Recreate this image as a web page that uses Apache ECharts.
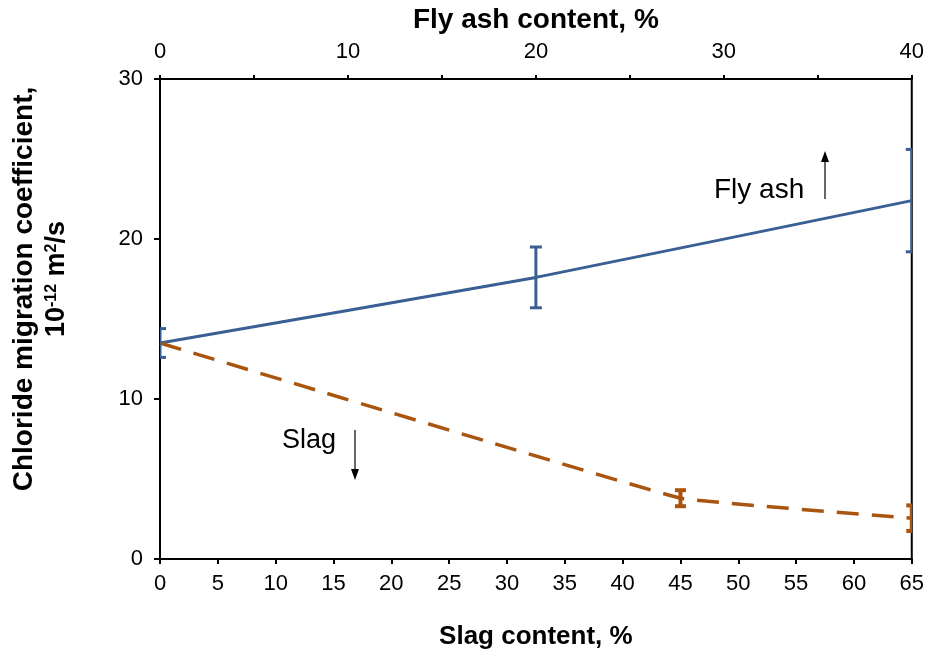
<!DOCTYPE html>
<html>
<head>
<meta charset="utf-8">
<script src="https://cdn.jsdelivr.net/npm/echarts@6/dist/echarts.min.js"></script>
<style>
  html, body { margin: 0; padding: 0; background: #fff; }
  #chart { width: 927px; height: 656px; }
</style>
</head>
<body>
<div id="chart"></div>
<script>
// data
const slagContent = [0, 45, 65];
const slagCoef = [13.5, 3.8, 2.55];
const slagErr = [0, 0.5, 0.8];
const flyAshContent = [0, 20, 40];
const flyAshCoef = [13.5, 17.6, 22.4];
const flyAshErr = [0.9, 1.9, 3.2];

const FONT = '"Liberation Sans", Arial, sans-serif';
const BLUE = '#3A5F94';
const BROWN = '#A9550F';

function errorBars(xs, ys, errs, color, axisIdx, capW, lw) {
  return {
    type: 'custom',
    xAxisIndex: axisIdx,
    clip: true,
    z: 4,
    data: xs.map((x, i) => [x, ys[i] - errs[i], ys[i] + errs[i]]),
    renderItem: function (params, api) {
      if (api.value(1) === api.value(2)) return null;
      const lo = api.coord([api.value(0), api.value(1)]);
      const hi = api.coord([api.value(0), api.value(2)]);
      const h = capW / 2;
      const st = { stroke: color, lineWidth: lw };
      return {
        type: 'group',
        children: [
          { type: 'line', shape: { x1: lo[0], y1: lo[1], x2: hi[0], y2: hi[1] }, style: st },
          { type: 'line', shape: { x1: lo[0] - h, y1: lo[1], x2: lo[0] + h, y2: lo[1] }, style: st },
          { type: 'line', shape: { x1: hi[0] - h, y1: hi[1], x2: hi[0] + h, y2: hi[1] }, style: st }
        ]
      };
    }
  };
}

const chart = echarts.init(document.getElementById('chart'));

const axisLine = { show: true, lineStyle: { color: '#000', width: 2 } };
const tickLabel = { color: '#000', fontSize: 22, fontFamily: FONT };

chart.setOption({
  animation: false,
  grid: { left: 160, right: 15, top: 79, bottom: 97, show: true, borderColor: '#000', borderWidth: 2 },
  xAxis: [
    {
      type: 'value', position: 'bottom', min: 0, max: 65, interval: 5,
      axisLine: axisLine,
      axisTick: { show: true, length: 5, lineStyle: { color: '#000', width: 2 } },
      axisLabel: Object.assign({ margin: 14 }, tickLabel),
      splitLine: { show: false },
      name: 'Slag content, %', nameLocation: 'middle', nameGap: 65,
      nameTextStyle: { color: '#000', fontSize: 26, fontWeight: 'bold', fontFamily: FONT }
    },
    {
      type: 'value', position: 'top', min: 0, max: 40, interval: 5,
      axisLine: axisLine,
      axisTick: { show: true, length: 4, lineStyle: { color: '#000', width: 2 } },
      axisLabel: Object.assign({ margin: 16, formatter: v => (v % 10 === 0 ? String(v) : '') }, tickLabel),
      splitLine: { show: false },
      name: 'Fly ash content, %', nameLocation: 'middle', nameGap: 45,
      nameTextStyle: { color: '#000', fontSize: 28, fontWeight: 'bold', fontFamily: FONT }
    }
  ],
  yAxis: {
    type: 'value', min: 0, max: 30, interval: 10,
    axisLine: axisLine,
    axisTick: { show: true, length: 6, lineStyle: { color: '#000', width: 2 } },
    axisLabel: Object.assign({ margin: 17 }, tickLabel),
    splitLine: { show: false }
  },
  graphic: [
    {
      type: 'text', x: 24, y: 289, rotation: Math.PI / 2,
      style: { text: 'Chloride migration coefficient,', font: 'bold 28px ' + FONT, fill: '#000', align: 'center', verticalAlign: 'middle' }
    },
    {
      type: 'text', x: 57, y: 279, rotation: Math.PI / 2,
      style: {
        text: '10{sup|-12} m{sup|2}/s',
        font: 'bold 27px ' + FONT, fill: '#000', align: 'center', verticalAlign: 'middle',
        rich: { sup: { font: 'bold 16px ' + FONT, fill: '#000', verticalAlign: 'top', padding: [0, 0, 11, 0] } }
      }
    },
    { type: 'text', x: 714, y: 190, style: { text: 'Fly ash', font: '28px ' + FONT, fill: '#000', verticalAlign: 'middle' } },
    { type: 'line', shape: { x1: 825, y1: 199, x2: 825, y2: 156 }, style: { stroke: '#000', lineWidth: 1.2 } },
    { type: 'polygon', shape: { points: [[825, 151], [821, 162], [829, 162]] }, style: { fill: '#000' } },
    { type: 'text', x: 282, y: 441, style: { text: 'Slag', font: '27px ' + FONT, fill: '#000', verticalAlign: 'middle' } },
    { type: 'line', shape: { x1: 355, y1: 430, x2: 355, y2: 474 }, style: { stroke: '#000', lineWidth: 1.2 } },
    { type: 'polygon', shape: { points: [[355, 480], [351, 469], [359, 469]] }, style: { fill: '#000' } }
  ],
  series: [
    {
      name: 'Fly ash', type: 'line', xAxisIndex: 1, smooth: 0.08, showSymbol: false, z: 3,
      data: flyAshContent.map((x, i) => [x, flyAshCoef[i]]),
      lineStyle: { color: BLUE, width: 3 }
    },
    {
      name: 'Slag', type: 'line', xAxisIndex: 0, smooth: 0.06, showSymbol: false, z: 3,
      data: slagContent.map((x, i) => [x, slagCoef[i]]),
      lineStyle: { color: BROWN, width: 3.5, type: [22, 13] }
    },
    errorBars(flyAshContent, flyAshCoef, flyAshErr, BLUE, 1, 12, 3),
    errorBars(slagContent, slagCoef, slagErr, BROWN, 0, 11, 4)
  ]
});
</script>
</body>
</html>
